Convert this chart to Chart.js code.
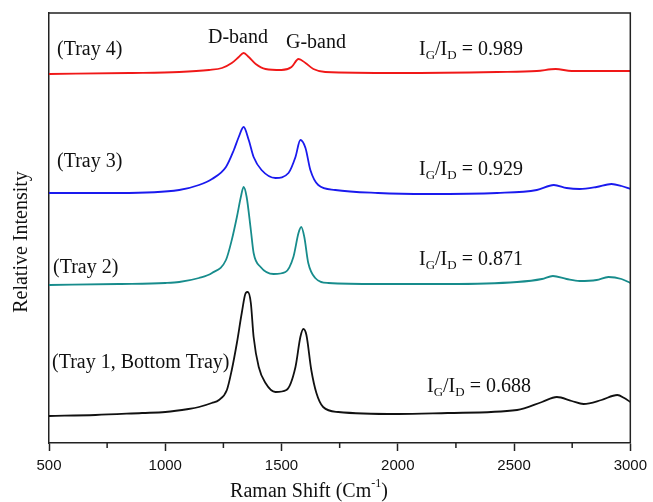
<!DOCTYPE html>
<html>
<head>
<meta charset="utf-8">
<script src="https://cdn.jsdelivr.net/npm/chart.js@4"></script>
<style>
  html, body { margin: 0; padding: 0; background: #fff; }
  #wrap { width: 653px; height: 502px; }
</style>
</head>
<body>
<div id="wrap"><canvas id="myChart" width="653" height="502"></canvas></div>
<script>
// Raman spectra, one curve per tray (values offset so the curves stack)
var tray1Shift = [500, 700, 900, 1000, 1100, 1145, 1200, 1231, 1265, 1286, 1308, 1329, 1346, 1355, 1368, 1380, 1402, 1431, 1474, 1521, 1560, 1581, 1594, 1607, 1628, 1650, 1679, 1744, 2000, 2214, 2513, 2620, 2684, 2748, 2799, 2876, 2944, 2974, 3000];
var tray1Intensity = [27, 28, 30, 31, 34, 36, 40, 43, 53, 73, 100, 130, 150, 151, 140, 106, 76, 60, 51, 53, 76, 106, 114, 108, 73, 50, 36, 31, 29, 30, 33, 41, 46, 42, 39, 43, 48, 45, 41];

var tray2Shift = [500, 800, 1000, 1060, 1145, 1201, 1261, 1286, 1308, 1325, 1337, 1350, 1368, 1380, 1410, 1466, 1517, 1551, 1573, 1585, 1598, 1615, 1645, 1701, 1915, 2214, 2513, 2620, 2667, 2726, 2782, 2855, 2906, 2962, 3000];
var tray2Intensity = [158, 159, 160, 161, 165, 170, 183, 203, 226, 246, 256, 246, 213, 190, 176, 169, 171, 186, 210, 216, 206, 180, 165, 160, 159, 159, 161, 164, 167, 164, 162, 163, 166, 164, 160];

var tray3Shift = [500, 803, 1060, 1145, 1201, 1261, 1295, 1316, 1337, 1359, 1380, 1414, 1474, 1530, 1560, 1581, 1603, 1624, 1658, 1731, 1915, 2128, 2427, 2598, 2671, 2726, 2782, 2855, 2919, 2962, 3000];
var tray3Intensity = [250, 250, 253, 258, 264, 276, 293, 306, 316, 303, 286, 273, 265, 270, 286, 303, 295, 273, 258, 253, 250, 249, 250, 253, 258, 255, 254, 256, 259, 257, 254];

var tray4Shift = [500, 846, 1060, 1188, 1244, 1286, 1316, 1337, 1359, 1389, 1431, 1500, 1543, 1573, 1603, 1637, 1688, 2000, 2427, 2598, 2679, 2748, 2855, 3000];
var tray4Intensity = [369, 370, 371, 373, 375, 380, 386, 390, 386, 379, 374, 373, 376, 384, 380, 374, 371, 370, 371, 372, 374, 372, 372, 372];

var trayNames = ["(Tray 1, Bottom Tray)", "(Tray 2)", "(Tray 3)", "(Tray 4)"];
var ratios = ["0.688", "0.871", "0.929", "0.989"];
var xMajorTicks = [500, 1000, 1500, 2000, 2500, 3000];
var xMinorTicks = [750, 1250, 1750, 2250, 2750];

function pairs(xs, ys) {
  return xs.map(function (x, i) { return { x: x, y: ys[i] }; });
}

var SERIF = "'Liberation Serif', 'Times New Roman', serif";

function drawRatio(ctx, x, y, value) {
  var big = "20px " + SERIF, small = "13px " + SERIF;
  var parts = [["I", big, 0], ["G", small, 6], ["/", big, 0], ["I", big, 0], ["D", small, 6], [" = " + value, big, 0]];
  parts.forEach(function (p) {
    ctx.font = p[1];
    ctx.fillText(p[0], x, y + p[2]);
    x += ctx.measureText(p[0]).width;
  });
}

var decor = {
  id: "decor",
  afterDraw: function (chart) {
    var ctx = chart.ctx, a = chart.chartArea, xs = chart.scales.x;
    ctx.save();
    // top and right frame
    ctx.strokeStyle = "#222";
    ctx.lineWidth = 1.5;
    ctx.beginPath();
    ctx.moveTo(a.left, a.top);
    ctx.lineTo(a.right, a.top);
    ctx.lineTo(a.right, a.bottom);
    ctx.stroke();
    // minor ticks
    ctx.beginPath();
    xMinorTicks.forEach(function (v) {
      var px = xs.getPixelForValue(v);
      ctx.moveTo(px, a.bottom);
      ctx.lineTo(px, a.bottom + 5);
    });
    ctx.stroke();

    ctx.fillStyle = "#111";
    ctx.textBaseline = "middle";
    ctx.textAlign = "left";
    ctx.font = "20px " + SERIF;
    ctx.fillText(trayNames[3], 57, 50);
    ctx.fillText(trayNames[2], 57, 162);
    ctx.fillText(trayNames[1], 53, 268);
    ctx.fillText(trayNames[0], 52, 363);
    ctx.textAlign = "center";
    ctx.fillText("D-band", 238, 38);
    ctx.textAlign = "left";
    ctx.fillText("G-band", 286, 43);

    drawRatio(ctx, 419, 50, ratios[3]);
    drawRatio(ctx, 419, 170, ratios[2]);
    drawRatio(ctx, 419, 260, ratios[1]);
    drawRatio(ctx, 427, 387, ratios[0]);

    // x axis title with superscript
    var t1 = "Raman Shift (Cm", sup = "-1", t2 = ")";
    ctx.font = "20px " + SERIF;
    var w1 = ctx.measureText(t1).width, w3 = ctx.measureText(t2).width;
    ctx.font = "12px " + SERIF;
    var w2 = ctx.measureText(sup).width;
    var x0 = 309 - (w1 + w2 + w3) / 2;
    ctx.font = "20px " + SERIF;
    ctx.fillText(t1, x0, 492);
    ctx.font = "12px " + SERIF;
    ctx.fillText(sup, x0 + w1, 484);
    ctx.font = "20px " + SERIF;
    ctx.fillText(t2, x0 + w1 + w2, 492);

    // y axis title
    ctx.translate(22, 242);
    ctx.rotate(-Math.PI / 2);
    ctx.textAlign = "center";
    ctx.fillText("Relative Intensity", 0, 0);
    ctx.restore();
  }
};

var ctx1 = document.getElementById("myChart").getContext("2d");
var myChart1 = new Chart(ctx1, {
  type: "line",
  data: {
    datasets: [
      { label: trayNames[0], data: pairs(tray1Shift, tray1Intensity), borderColor: "#111111" },
      { label: trayNames[1], data: pairs(tray2Shift, tray2Intensity), borderColor: "#178c8c" },
      { label: trayNames[2], data: pairs(tray3Shift, tray3Intensity), borderColor: "#1a1aee" },
      { label: trayNames[3], data: pairs(tray4Shift, tray4Intensity), borderColor: "#f01818" },
    ],
  },
  options: {
    responsive: false,
    animation: false,
    layout: { padding: { top: 13, right: 19, left: 0, bottom: 0 } },
    elements: {
      point: { radius: 0 },
      line: { borderWidth: 1.8, cubicInterpolationMode: "monotone", fill: false },
    },
    plugins: { legend: { display: false }, tooltip: { enabled: false } },
    scales: {
      x: {
        type: "linear",
        min: 500,
        max: 3000,
        afterFit: function (s) { s.height = 59; },
        afterBuildTicks: function (s) { s.ticks = xMajorTicks.map(function (v) { return { value: v }; }); },
        border: { color: "#222", width: 1.5 },
        grid: { drawOnChartArea: false, tickLength: 8, color: "#222", tickWidth: 1.5 },
        ticks: {
          padding: 6,
          color: "#111",
          font: { family: "'Liberation Sans', Arial, sans-serif", size: 15 },
          callback: function (v) { return String(v); },
        },
      },
      y: {
        min: 0,
        max: 430,
        afterFit: function (s) { s.width = 49; },
        border: { color: "#222", width: 1.5 },
        grid: { display: false, drawTicks: false },
        ticks: { display: false },
      },
    },
  },
  plugins: [decor],
});
</script>
</body>
</html>
